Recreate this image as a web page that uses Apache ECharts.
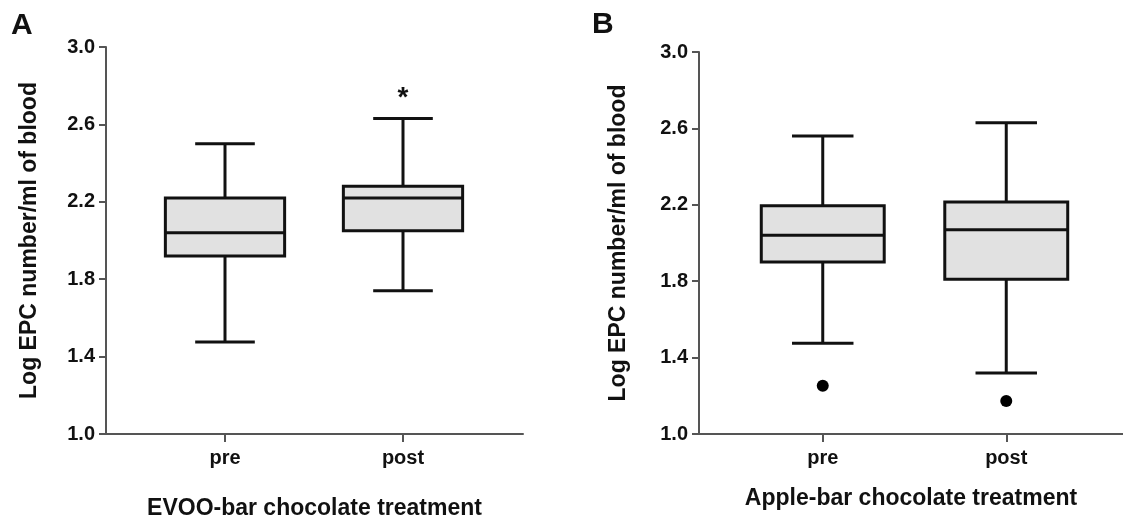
<!DOCTYPE html>
<html><head><meta charset="utf-8">
<script src="https://cdn.jsdelivr.net/npm/echarts@6/dist/echarts.min.js"></script>
<style>html,body{margin:0;padding:0;background:#fff}#c{width:1123px;height:518px}</style>
</head><body><div id="c"></div>
<script>
// ---- data ----
const categories = ['pre', 'post'];
// [min whisker, Q1, median, Q3, max whisker]
const evooStats = [
  [1.475, 1.92, 2.04, 2.22, 2.50],
  [1.74, 2.05, 2.22, 2.28, 2.63]
];
const appleStats = [
  [1.475, 1.90, 2.04, 2.195, 2.56],
  [1.32, 1.81, 2.07, 2.215, 2.63]
];
const appleOutliers = [[0, 1.253], [1, 1.173]];
const evooSignificance = [[1, 2.76, '*']];
const yMin = 1.0, yMax = 3.0, yStep = 0.4;
const panelLabels = ['A', 'B'];
const yTitle = 'Log EPC number/ml of blood';
const xTitles = ['EVOO-bar chocolate treatment', 'Apple-bar chocolate treatment'];

// ---- styling ----
const FONT = '"Liberation Sans", Arial, Helvetica, sans-serif';
const AXIS_COLOR = '#555';
const INK = '#111';

function renderBox(params, api) {
  const x = api.value(0);
  const lo = api.value(1), q1 = api.value(2), md = api.value(3), q3 = api.value(4), hi = api.value(5);
  const band = api.size([1, 0])[0];
  const bw = band * 0.67, cw = bw * 0.5;
  const pLo = api.coord([x, lo]), pQ1 = api.coord([x, q1]), pMd = api.coord([x, md]);
  const pQ3 = api.coord([x, q3]), pHi = api.coord([x, hi]);
  const cx = pMd[0];
  const st = { stroke: INK, lineWidth: 3, fill: null };
  return {
    type: 'group',
    children: [
      { type: 'line', shape: { x1: cx, y1: pHi[1], x2: cx, y2: pQ3[1] }, style: st },
      { type: 'line', shape: { x1: cx, y1: pQ1[1], x2: cx, y2: pLo[1] }, style: st },
      { type: 'line', shape: { x1: cx - cw / 2, y1: pHi[1], x2: cx + cw / 2, y2: pHi[1] }, style: st },
      { type: 'line', shape: { x1: cx - cw / 2, y1: pLo[1], x2: cx + cw / 2, y2: pLo[1] }, style: st },
      { type: 'rect', shape: { x: cx - bw / 2, y: pQ3[1], width: bw, height: pQ1[1] - pQ3[1] },
        style: { fill: '#e1e1e1', stroke: INK, lineWidth: 3 } },
      { type: 'line', shape: { x1: cx - bw / 2, y1: pMd[1], x2: cx + bw / 2, y2: pMd[1] }, style: st }
    ]
  };
}

function outerX(gridIndex, name, gap) {
  return {
    gridIndex, type: 'value', min: 0, max: 1,
    axisLine: { show: true, onZero: false, lineStyle: { color: AXIS_COLOR, width: 2 } },
    axisTick: { show: false }, axisLabel: { show: false }, splitLine: { show: false },
    name, nameLocation: 'middle', nameGap: gap,
    nameTextStyle: { fontFamily: FONT, fontWeight: 'bold', fontSize: 23, color: INK }
  };
}
function innerX(gridIndex) {
  return {
    gridIndex, type: 'category', data: categories,
    axisLine: { show: false },
    axisTick: { show: true, alignWithLabel: true, length: 8, lineStyle: { color: AXIS_COLOR, width: 2 } },
    axisLabel: { fontFamily: FONT, fontWeight: 'bold', fontSize: 20, color: INK, margin: 14 },
    splitLine: { show: false }
  };
}
function outerY(gridIndex, gap) {
  return {
    gridIndex, type: 'value', min: yMin, max: yMax, interval: yStep,
    axisLine: { show: true, lineStyle: { color: AXIS_COLOR, width: 2 } },
    axisTick: { show: true, length: 7, lineStyle: { color: AXIS_COLOR, width: 2 } },
    axisLabel: { fontFamily: FONT, fontWeight: 'bold', fontSize: 20, color: INK, margin: 11,
      formatter: v => v.toFixed(1) },
    splitLine: { show: false },
    name: yTitle, nameLocation: 'middle', nameGap: gap, nameRotate: 90,
    nameTextStyle: { fontFamily: FONT, fontWeight: 'bold', fontSize: 23, color: INK }
  };
}
function innerY(gridIndex) {
  return {
    gridIndex, type: 'value', min: yMin, max: yMax, interval: yStep,
    axisLine: { show: false }, axisTick: { show: false }, axisLabel: { show: false },
    splitLine: { show: false }
  };
}

const G = { outerBoundsMode: 'none', containLabel: false };
const chart = echarts.init(document.getElementById('c'), null, { renderer: 'canvas' });
chart.setOption({
  backgroundColor: '#fff',
  animation: false,
  title: [
    { text: panelLabels[0], left: 11, top: 11, padding: 0,
      textStyle: { fontFamily: FONT, fontWeight: 'bold', fontSize: 30, color: INK } },
    { text: panelLabels[1], left: 592, top: 10, padding: 0,
      textStyle: { fontFamily: FONT, fontWeight: 'bold', fontSize: 30, color: INK } }
  ],
  grid: [
    Object.assign({ left: 106, right: 600, top: 47, bottom: 84 }, G),
    Object.assign({ left: 136, right: 631, top: 47, bottom: 84 }, G),
    Object.assign({ left: 699, right: 0, top: 52, bottom: 84 }, G),
    Object.assign({ left: 731, right: 25, top: 52, bottom: 84 }, G)
  ],
  xAxis: [outerX(0, xTitles[0], 63), innerX(1), outerX(2, xTitles[1], 53), innerX(3)],
  yAxis: [outerY(0, 65), innerY(1), outerY(2, 69), innerY(3)],
  series: [
    { type: 'custom', xAxisIndex: 1, yAxisIndex: 1, renderItem: renderBox, clip: false,
      data: evooStats.map((s, i) => [i, ...s]) },
    { type: 'scatter', xAxisIndex: 1, yAxisIndex: 1, symbol: 'circle', symbolSize: 2,
      itemStyle: { color: 'rgba(0,0,0,0)', opacity: 1 }, clip: false, z: 5,
      data: evooSignificance.map(d => [d[0], d[1]]),
      label: { show: true, position: 'inside', formatter: p => evooSignificance[p.dataIndex][2],
        fontFamily: FONT, fontWeight: 'bold', fontSize: 28, color: INK, offset: [0, 5] } },
    { type: 'custom', xAxisIndex: 3, yAxisIndex: 3, renderItem: renderBox, clip: false,
      data: appleStats.map((s, i) => [i, ...s]) },
    { type: 'scatter', xAxisIndex: 3, yAxisIndex: 3, symbol: 'circle', symbolSize: 12,
      itemStyle: { color: '#000', opacity: 1 }, data: appleOutliers }
  ]
});
</script></body></html>
